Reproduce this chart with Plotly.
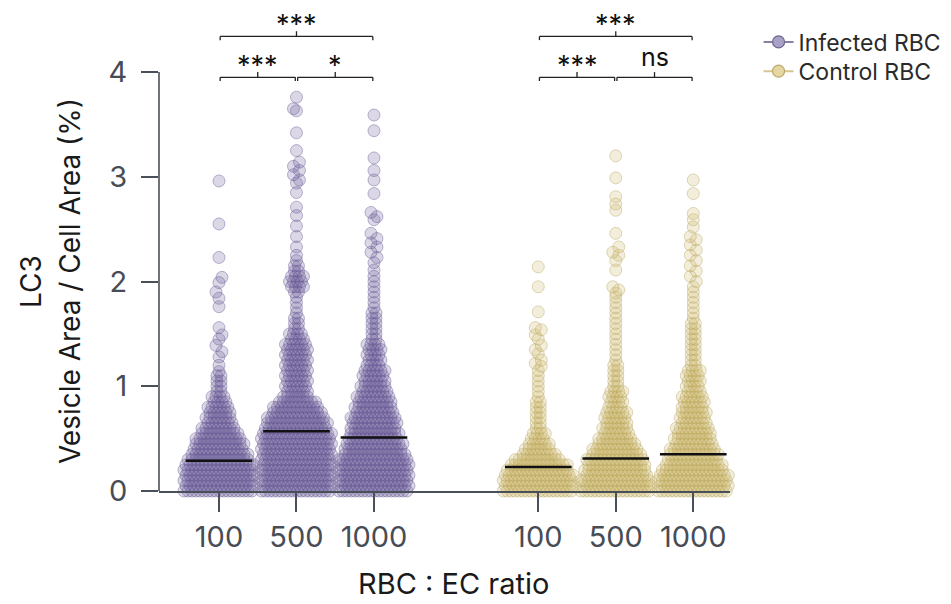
import plotly.graph_objects as go

# ---------------- data ----------------
ratio_labels = ["100", "500", "1000"]
series_names = ["Infected RBC", "Control RBC"]
y_title_lines = ["LC3", "Vesicle Area / Cell Area (%)"]
x_title = "RBC : EC ratio"

# y levels (bins of the swarm, % area)
levels = [0.00, 0.05, 0.10, 0.15, 0.20, 0.25, 0.30, 0.35, 0.40, 0.45,
          0.50, 0.55, 0.60, 0.65, 0.70, 0.75, 0.80, 0.85, 0.90, 0.95,
          1.00, 1.05, 1.10, 1.15, 1.20, 1.25, 1.30, 1.35, 1.40, 1.45,
          1.50, 1.55, 1.60, 1.65, 1.70, 1.75, 1.80, 1.85, 1.90, 1.95,
          2.00, 2.05, 2.10, 2.15, 2.20, 2.25]

# number of cells per level (dense part of each swarm)
inf100_counts = [18, 18, 18, 18, 18, 18, 16, 15, 13, 13, 12, 10, 9, 7, 7, 6, 6, 4, 4, 2, 2, 2, 2]
inf500_counts = [18, 18, 18, 18, 18, 18, 18, 18, 18, 18, 18, 18,
                 16, 16, 15, 13, 12, 10, 7, 6, 6, 6, 6, 6, 6, 6, 6, 6, 6,
                 4, 4, 2, 2, 2, 1, 1, 1, 1, 2, 4, 4, 4, 2, 2, 1, 1]
inf1000_counts = [18, 18, 18, 18, 18, 18, 18, 16, 15, 15, 13, 13, 12, 12, 12, 10, 10, 9, 9, 7, 7,
                  6, 6, 6, 4, 4, 4, 4, 4, 2, 2, 2, 2, 2, 2, 1, 1, 1, 1, 1, 1]
ctl100_counts = [18, 18, 18, 18, 16, 15, 12, 9, 7, 6, 4, 4, 2, 2, 2, 2, 2, 2, 1, 1, 1, 1, 1]
ctl500_counts = [18, 18, 18, 16, 16, 15, 15, 13, 12, 10, 9, 7, 7, 6, 6, 6, 4, 4, 4, 4, 2, 2, 2, 2, 2,
                 1, 1, 1, 1, 1, 1, 1, 1, 1, 1, 1, 1, 1]
ctl1000_counts = [18, 18, 18, 18, 16, 15, 13, 13, 12, 10, 10, 9, 9, 7, 7, 7, 6, 6, 6, 4, 4, 4, 4, 4,
                  2, 2, 2, 2, 2, 2, 2, 2, 2, 1, 1, 1, 1, 1, 1]

# individual high values (sparse tails)
inf100_tail = [1.14, 1.20, 1.28, 1.33, 1.39, 1.45, 1.49, 1.56, 1.76, 1.84, 1.90, 1.99, 2.04, 2.23, 2.55, 2.96]
inf500_tail = [2.33, 2.43, 2.53, 2.63, 2.71, 2.85, 2.94, 2.97, 3.02, 3.06, 3.10, 3.14, 3.25, 3.42, 3.63, 3.65, 3.76]
inf1000_tail = [2.05, 2.11, 2.18, 2.23, 2.28, 2.33, 2.37, 2.41, 2.46, 2.59, 2.62, 2.66, 2.84, 2.97, 3.06, 3.18, 3.44, 3.59]
ctl100_tail = [1.15, 1.19, 1.22, 1.25, 1.31, 1.35, 1.39, 1.45, 1.49, 1.54, 1.56, 1.71, 1.95, 2.14]
ctl500_tail = [1.89, 1.92, 1.95, 2.11, 2.20, 2.25, 2.28, 2.33, 2.46, 2.68, 2.74, 2.81, 2.99, 3.20]
ctl1000_tail = [1.95, 2.00, 2.05, 2.10, 2.15, 2.20, 2.25, 2.30, 2.35, 2.40, 2.43, 2.52, 2.59, 2.65, 2.84, 2.97]

inf_medians = [0.29, 0.57, 0.51]
ctl_medians = [0.23, 0.31, 0.35]

# significance tests: (from group, to group, label, row)
inf_sig = [(0, 1, "***", 1), (1, 2, "*", 1), (0, 2, "***", 2)]
ctl_sig = [(0, 1, "***", 1), (1, 2, "ns", 1), (0, 2, "***", 2)]

# ---------------- layout constants ----------------
inf_pos = [0, 1, 2]
ctl_pos = [4.12, 5.12, 6.12]
X_RANGE = [-0.774, 6.594]
Y_RANGE = [0, 4.65]
PX_PER_X = 77.5
SPREAD_PX = 4.0

INF_FILL = "rgba(116,101,158,0.26)"
INF_EDGE = "rgba(98,86,145,0.42)"
CTL_FILL = "rgba(208,188,114,0.26)"
CTL_EDGE = "rgba(182,162,92,0.42)"
AXIS_COL = "#4a5059"
TICK_FONT_COL = "#474c55"
FONT = "Inter, 'Noto Sans', sans-serif"


def swarm(center, counts, tail):
    xs, ys = [], []
    for k, (lv, n) in enumerate(zip(levels, counts)):
        stagger = ((k % 2) - 0.5) * SPREAD_PX / 2.0 if n > 2 else 0.0
        for i in range(n):
            off = ((i - (n - 1) / 2.0) * SPREAD_PX + stagger) / PX_PER_X
            xs.append(center + off)
            ys.append(lv)
    prev = None
    side = 1
    for v in tail:
        off = 0.0
        if prev is not None and v - prev < 0.06:
            off = side * 3.0 / PX_PER_X
            side = -side
        xs.append(center + off)
        ys.append(v)
        prev = v
    return xs, ys


fig = go.Figure()

# legend entries (one legend box per series so the rows can be placed freely)
fig.add_trace(go.Scatter(x=[None], y=[None], mode="lines+markers", name=series_names[0], legend="legend",
                         line=dict(color="#8a80a8", width=2),
                         marker=dict(size=12, color="#aaa2c6", line=dict(color="#6e6590", width=1.2))))
fig.add_trace(go.Scatter(x=[None], y=[None], mode="lines+markers", name=series_names[1], legend="legend2",
                         line=dict(color="#d6c690", width=2),
                         marker=dict(size=12, color="#e6d7a2", line=dict(color="#bca96f", width=1.2))))

groups = [
    (inf_pos[0], inf100_counts, inf100_tail, INF_FILL, INF_EDGE),
    (inf_pos[1], inf500_counts, inf500_tail, INF_FILL, INF_EDGE),
    (inf_pos[2], inf1000_counts, inf1000_tail, INF_FILL, INF_EDGE),
    (ctl_pos[0], ctl100_counts, ctl100_tail, CTL_FILL, CTL_EDGE),
    (ctl_pos[1], ctl500_counts, ctl500_tail, CTL_FILL, CTL_EDGE),
    (ctl_pos[2], ctl1000_counts, ctl1000_tail, CTL_FILL, CTL_EDGE),
]
for c, counts, tail, fill, edge in groups:
    xs, ys = swarm(c, counts, tail)
    fig.add_trace(go.Scatter(x=xs, y=ys, mode="markers", showlegend=False, hoverinfo="y",
                             cliponaxis=False,
                             marker=dict(size=12, color=fill, line=dict(color=edge, width=1))))

# median lines
for pos, meds in ((inf_pos, inf_medians), (ctl_pos, ctl_medians)):
    for c, m in zip(pos, meds):
        fig.add_trace(go.Scatter(x=[c - 0.43, c + 0.43], y=[m, m], mode="lines", showlegend=False,
                                 hoverinfo="skip", line=dict(color="#111111", width=2.5)))

shapes = []
annotations = []
# y axis line only from 0 to 4
shapes.append(dict(type="line", xref="paper", yref="y", x0=0, x1=0, y0=0, y1=4,
                   line=dict(color=AXIS_COL, width=1.6)))

ROW_Y = {1: 3.95, 2: 4.34}
for pos, sig in ((inf_pos, inf_sig), (ctl_pos, ctl_sig)):
    for a, b, label, row in sig:
        y = ROW_Y[row]
        x0 = pos[a] + 0.015
        x1 = pos[b] - 0.015
        xm = (pos[a] + pos[b]) / 2.0
        br = dict(color="#222222", width=1.3)
        shapes.append(dict(type="line", xref="x", yref="y", x0=x0, x1=x1, y0=y, y1=y, line=br))
        shapes.append(dict(type="line", xref="x", yref="y", x0=x0, x1=x0, y0=y, y1=y - 0.035, line=br))
        shapes.append(dict(type="line", xref="x", yref="y", x0=x1, x1=x1, y0=y, y1=y - 0.035, line=br))
        shapes.append(dict(type="line", xref="x", yref="y", x0=xm, x1=xm, y0=y, y1=y + 0.05, line=br))
        is_ns = label == "ns"
        annotations.append(dict(x=xm, y=y + (0.19 if is_ns else 0.115), xref="x", yref="y", text=label,
                                showarrow=False,
                                font=dict(family=FONT, size=25 if is_ns else 27, color="#111111"),
                                xanchor="center", yanchor="middle"))

# axis titles
annotations.append(dict(x=0.515, y=-0.189, xref="paper", yref="paper", text=x_title,
                        showarrow=False, font=dict(family=FONT, size=29, color="#1a1a1a"),
                        xanchor="center", yanchor="middle"))
annotations.append(dict(x=-0.2242, y=0.431, xref="paper", yref="paper", text=y_title_lines[0],
                        showarrow=False, textangle=-90, font=dict(family=FONT, size=28, color="#1a1a1a"),
                        xanchor="center", yanchor="middle"))
annotations.append(dict(x=-0.1559, y=0.431, xref="paper", yref="paper", text=y_title_lines[1],
                        showarrow=False, textangle=-90, font=dict(family=FONT, size=28, color="#1a1a1a"),
                        xanchor="center", yanchor="middle"))

legend_common = dict(xanchor="left", yanchor="middle",
                     font=dict(family=FONT, size=23, color="#2a2a2a"),
                     bgcolor="rgba(0,0,0,0)", itemwidth=30)

fig.update_layout(
    width=951, height=604,
    margin=dict(l=159, r=221, t=4, b=113),
    paper_bgcolor="white", plot_bgcolor="white",
    font=dict(family=FONT),
    shapes=shapes, annotations=annotations,
    legend=dict(x=1.05, y=0.922, **legend_common),
    legend2=dict(x=1.05, y=0.862, **legend_common),
    xaxis=dict(range=X_RANGE, tickvals=inf_pos + ctl_pos, ticktext=ratio_labels + ratio_labels,
               ticks="outside", ticklen=19, tickwidth=1.6, tickcolor=AXIS_COL,
               showline=True, linecolor=AXIS_COL, linewidth=1.6,
               showgrid=False, zeroline=False, ticklabelstandoff=0,
               tickfont=dict(family=FONT, size=29, color=TICK_FONT_COL)),
    yaxis=dict(range=Y_RANGE, tickvals=[0, 1, 2, 3, 4], ticktext=["0", "1", "2", "3", "4"],
               ticks="outside", ticklen=17, tickwidth=1.6, tickcolor=AXIS_COL,
               showline=False, showgrid=False, zeroline=False, ticklabelstandoff=8,
               tickfont=dict(family=FONT, size=29, color=TICK_FONT_COL)),
)

fig.write_html("out.html")
